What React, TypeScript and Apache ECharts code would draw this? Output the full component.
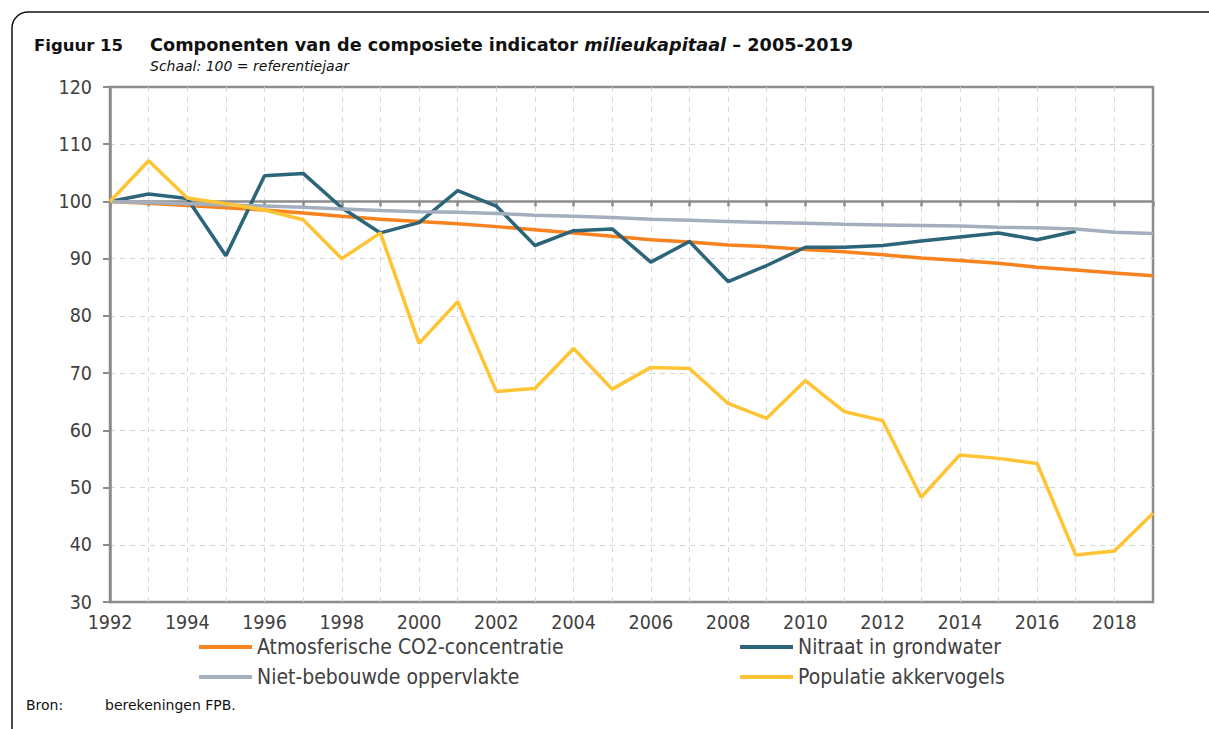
import React, { useEffect, useRef } from "react";
import * as echarts from "echarts";

const years = [1992,1993,1994,1995,1996,1997,1998,1999,2000,2001,2002,2003,2004,2005,2006,2007,2008,2009,2010,2011,2012,2013,2014,2015,2016,2017,2018,2019];

const co2 = [100,99.7,99.3,98.9,98.5,98.0,97.4,96.9,96.5,96.1,95.6,95.05,94.5,93.9,93.3,92.9,92.4,92.1,91.6,91.2,90.7,90.1,89.7,89.2,88.5,88.0,87.5,87.0];
const nitraat = [100,101.3,100.5,90.5,104.5,104.9,98.9,94.5,96.3,101.9,99.2,92.3,94.9,95.2,89.4,93.0,86.0,88.8,92.0,92.0,92.3,93.1,93.8,94.5,93.3,94.8,null,null];
const nietBebouwd = [100,99.8,99.6,99.4,99.2,99.0,98.7,98.4,98.2,98.1,97.9,97.6,97.4,97.2,96.9,96.7,96.5,96.3,96.2,96.0,95.9,95.8,95.7,95.5,95.4,95.2,94.6,94.4];
const akkervogels = [100,107.1,100.6,99.6,98.5,96.8,90.0,94.5,75.2,82.5,66.8,67.3,74.3,67.2,71.0,70.8,64.7,62.1,68.7,63.3,61.7,48.3,55.7,55.1,54.2,38.2,38.9,45.5];

const seriesNames = ["Atmosferische CO2-concentratie", "Nitraat in grondwater", "Niet-bebouwde oppervlakte", "Populatie akkervogels"];
const seriesColors = ["#F7821E", "#2C6479", "#A4AFBD", "#FEC433"];

const AXIS_FONT = "'DejaVu Sans Condensed', 'DejaVu Sans', sans-serif";
const TITLE_FONT = "'DejaVu Sans', sans-serif";
const LABEL_COLOR = "#404040";
const AXIS_COLOR = "#8C8C8C";
const GRID_COLOR = "#D6D6D6";

export default function App() {
  const ref = useRef<HTMLDivElement>(null);

  useEffect(() => {
    document.body.style.margin = "0";
    if (!ref.current) return;
    const chart = echarts.init(ref.current, null, { renderer: "svg" });
    const gridTop = 87;
    const gridBottom = 127;
    const gridHeight = 729 - gridTop - gridBottom;
    const yMin = 30, yMax = 120;
    const axisOffset = -((yMax - 100) / (yMax - yMin)) * gridHeight;

    const datas = [co2, nitraat, nietBebouwd, akkervogels];
    const series = datas.map((d, i) => ({
      name: seriesNames[i],
      type: "line",
      xAxisIndex: 1,
      data: years.map((y, j) => [y, d[j]]),
      showSymbol: false,
      symbol: "none",
      connectNulls: false,
      lineStyle: { color: seriesColors[i], width: 3.5 },
      itemStyle: { color: seriesColors[i] },
      z: 3 + i,
    }));

    const legendCommon = {
      orient: "vertical",
      icon: "rect",
      itemWidth: 53,
      itemHeight: 4,
      itemGap: 8,
      top: 636,
      padding: 0,
      textStyle: { fontFamily: AXIS_FONT, fontSize: 21, color: LABEL_COLOR, lineHeight: 22, padding: [0, 0, 0, 0] },
      selectedMode: false,
    };

    chart.setOption({
      animation: false,
      backgroundColor: "#ffffff",
      title: [
        {
          text: "Figuur 15",
          left: 34,
          top: 37,
          padding: 0,
          textStyle: { fontFamily: TITLE_FONT, fontSize: 16.5, fontWeight: "bold", color: "#111111" },
        },
        {
          text: "{b|Componenten van de composiete indicator }{bi|milieukapitaal}{b| – 2005-2019}",
          left: 150,
          top: 36,
          padding: 0,
          textStyle: {
            rich: {
              b: { fontFamily: TITLE_FONT, fontSize: 17.7, fontWeight: "bold", color: "#111111" },
              bi: { fontFamily: TITLE_FONT, fontSize: 17.7, fontWeight: "bold", fontStyle: "italic", color: "#111111" },
            },
          },
        },
        {
          text: "Schaal: 100 = referentiejaar",
          left: 150,
          top: 59,
          padding: 0,
          textStyle: { fontFamily: TITLE_FONT, fontSize: 14, fontStyle: "italic", fontWeight: "normal", color: "#111111" },
        },
        {
          text: "Bron:",
          left: 26,
          top: 698,
          padding: 0,
          textStyle: { fontFamily: TITLE_FONT, fontSize: 14, fontWeight: "normal", color: "#111111" },
        },
        {
          text: "berekeningen FPB.",
          left: 105,
          top: 698,
          padding: 0,
          textStyle: { fontFamily: TITLE_FONT, fontSize: 14, fontWeight: "normal", color: "#111111" },
        },
      ],
      graphic: [
        {
          type: "rect",
          shape: { x: 12, y: 12, width: 1400, height: 900, r: [16, 0, 0, 0] },
          style: { fill: "none", stroke: "#111111", lineWidth: 1.5 },
          silent: true,
          z: -10,
        },
      ],
      legend: [
        { ...legendCommon, left: 199, data: [seriesNames[0], seriesNames[2]] },
        { ...legendCommon, left: 740, data: [seriesNames[1], seriesNames[3]] },
      ],
      grid: {
        left: 110,
        right: 56,
        top: gridTop,
        bottom: gridBottom,
        show: true,
        borderColor: AXIS_COLOR,
        borderWidth: 2.5,
        backgroundColor: "transparent",
        containLabel: false,
      },
      xAxis: [
        {
          type: "value",
          position: "bottom",
          min: 1992,
          max: 2019,
          interval: 1,
          axisLine: { show: false },
          axisTick: { show: false },
          splitLine: { show: false },
          axisLabel: {
            margin: 10,
            fontFamily: AXIS_FONT,
            fontSize: 19.5,
            color: LABEL_COLOR,
            formatter: (v: number) => (v % 2 === 0 && v < 2019 ? String(v) : ""),
          },
        },
        {
          type: "value",
          position: "top",
          offset: axisOffset,
          min: 1992,
          max: 2019,
          interval: 1,
          axisLine: { show: true, lineStyle: { color: AXIS_COLOR, width: 2.5 } },
          axisTick: { show: true, inside: true, length: 5, lineStyle: { color: AXIS_COLOR, width: 2.5 } },
          axisLabel: { show: false },
          splitLine: { show: true, showMinLine: false, showMaxLine: false, lineStyle: { color: GRID_COLOR, width: 1, type: [5, 5] } },
        },
      ],
      yAxis: {
        type: "value",
        min: yMin,
        max: yMax,
        interval: 10,
        axisLine: { show: true, lineStyle: { color: AXIS_COLOR, width: 2.5 } },
        axisTick: { show: true, length: 7, lineStyle: { color: AXIS_COLOR, width: 2 } },
        axisLabel: { margin: 18, fontFamily: AXIS_FONT, fontSize: 19.5, color: LABEL_COLOR },
        splitLine: { show: true, showMinLine: false, showMaxLine: false, lineStyle: { color: GRID_COLOR, width: 1, type: [5, 5] } },
      },
      series,
    });

    return () => chart.dispose();
  }, []);

  return <div ref={ref} style={{ width: 1209, height: 729 }} />;
}
